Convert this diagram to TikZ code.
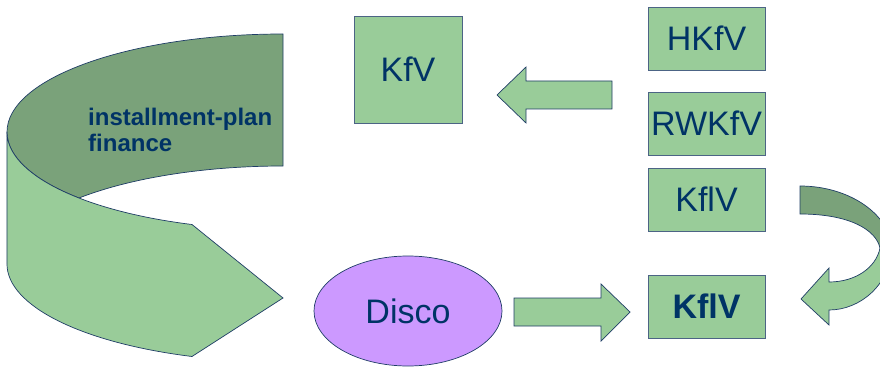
\documentclass[tikz,border=0pt]{standalone}
\usepackage{fontspec}
\usetikzlibrary{shapes.geometric}
\setmainfont{Liberation Sans}
\definecolor{lgreen}{HTML}{99CC99}
\definecolor{dgreen}{HTML}{7AA27A}
\definecolor{lav}{HTML}{CC99FF}
\definecolor{navy}{HTML}{003366}
\definecolor{edge}{HTML}{1F3D66}
\begin{document}
\begin{tikzpicture}[x=1pt,y=1pt,
  box/.style={draw=edge!80,line width=0.8pt,fill=lgreen,inner sep=0pt,
    minimum width=117pt,minimum height=63pt,text=navy,font=\fontsize{34}{40}\selectfont},
  shapeA/.style={draw=edge,line width=0.7pt,line join=miter,fill=lgreen},
  shapeB/.style={draw=edge,line width=0.7pt,line join=miter,fill=dgreen}]
\useasboundingbox (0,0) rectangle (880,367);
\begin{scope}
\clip (0,0) rectangle (880,367);
% left ribbon arrow
\path[shapeB] (283,333) arc[start angle=90,end angle=222.34,x radius=276,y radius=98]
  arc[start angle=137.66,end angle=90,x radius=276,y radius=98] -- cycle;
\path[shapeA] (7,235) arc[start angle=180,end angle=250.75,x radius=276,y radius=98]
  -- (283,69) -- (192,10.5)
  arc[start angle=250.75,end angle=180,x radius=276,y radius=98] -- cycle;
% right curved arrow
\path[shapeB] (800,181) .. controls (850,181) and (890,152) .. (892,119)
  -- (880,119) .. controls (876,137) and (850,153) .. (800,153) -- cycle;
\path[shapeA] (892,119) .. controls (890,82) and (860,57) .. (829,57)
  -- (829,42) -- (801,68) -- (829,99) -- (829,85)
  .. controls (855,85) and (876,99) .. (880,119) -- cycle;
\end{scope}
\node[anchor=base west,inner sep=0pt,text=navy,font=\fontsize{24}{26}\selectfont\bfseries] (lbl1) at (88,241) {installment-plan};
\node[anchor=base west,inner sep=0pt,text=navy,font=\fontsize{24}{26}\selectfont\bfseries] (lbl2) at (88,215) {finance};
% boxes
\node[box,minimum width=108pt,minimum height=107pt] (kfv) at (408,297.5) {KfV};
\node[box] (hkfv) at (706.5,328.5) {HKfV};
\node[box] (rwkfv) at (706.5,243.5) {RWKfV};
\node[box] (kflv) at (706.5,167.5) {KflV};
\node[box,font=\fontsize{34}{40}\selectfont\bfseries] (kflvb) at (706.5,60.5) {KflV};
\node[draw=edge,line width=0.7pt,fill=lav,ellipse,inner sep=0pt,minimum width=188pt,minimum height=110pt,
  text=navy,font=\fontsize{34}{40}\selectfont] (disco) at (408,56) {Disco};
% block arrows
\path[shapeA] (497,272) -- (526,300) -- (526,286) -- (612,286) -- (612,258) -- (526,258) -- (526,244) -- cycle;
\path[shapeA] (514,69) -- (601,69) -- (601,83) -- (630,55) -- (601,26) -- (601,41) -- (514,41) -- cycle;
\end{tikzpicture}
\end{document}
